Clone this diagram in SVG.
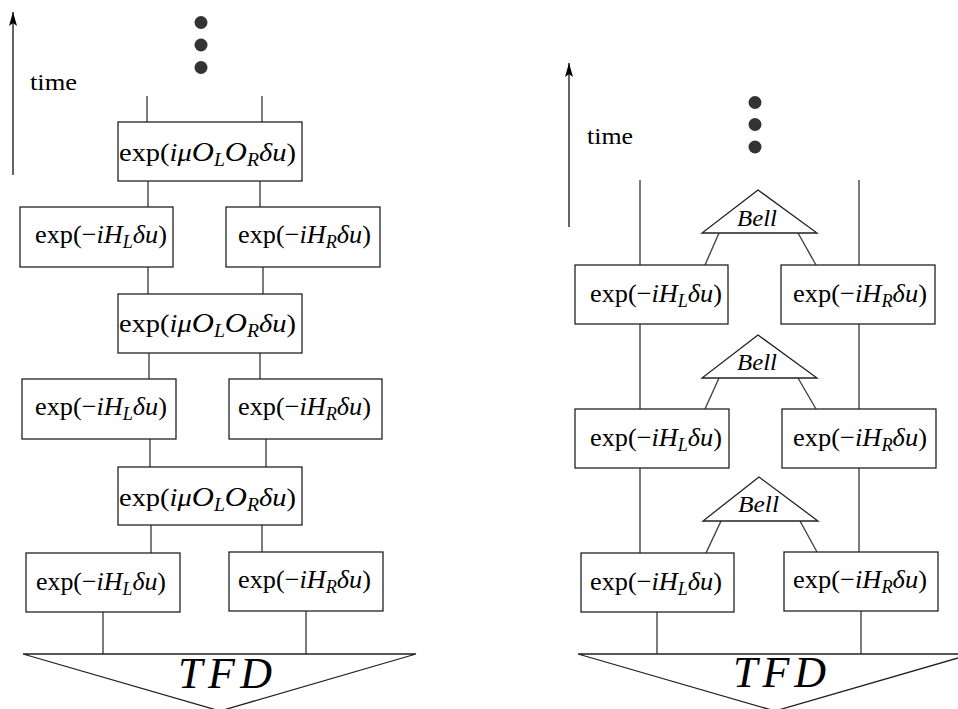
<svg xmlns="http://www.w3.org/2000/svg" width="958" height="709" viewBox="0 0 958 709">
<defs>
<marker id="ah" markerWidth="16" markerHeight="10" refX="14" refY="4" orient="auto" markerUnits="userSpaceOnUse">
<path d="M0,0 L14,4 L0,8 L3,4 Z" fill="#000"/>
</marker>
<style>
.box{fill:#fff;stroke:#222;stroke-width:1.3}
.tri{fill:#fff;stroke:#222;stroke-width:1.3}
.ln{stroke:#444;stroke-width:1.4;fill:none}
.ax{stroke:#111;stroke-width:1.3;fill:none}
.dot{fill:#333}
text{font-family:"Liberation Serif","Times New Roman",serif;fill:#000}
.m{font-size:26px}
.i{font-style:italic}
.s{font-style:italic;font-size:18px}
.o{font-style:italic;font-size:28px}
.t{font-size:24px}
.bell{font-size:24px;font-style:italic}
.tfd{font-size:44px;font-style:italic}
</style>
</defs>
<rect width="958" height="709" fill="#fff"/>

<g id="connectors">
<line class="ax" x1="13" y1="175" x2="13" y2="12" marker-end="url(#ah)"/>
<line class="ax" x1="569" y1="227" x2="569" y2="63" marker-end="url(#ah)"/>
<line class="ln" x1="147" y1="96" x2="147" y2="122"/>
<line class="ln" x1="262" y1="96" x2="262" y2="122"/>
<line class="ln" x1="148" y1="181" x2="148" y2="207"/>
<line class="ln" x1="260" y1="181" x2="260" y2="207"/>
<line class="ln" x1="148" y1="267" x2="148" y2="294"/>
<line class="ln" x1="263" y1="267" x2="263" y2="294"/>
<line class="ln" x1="149" y1="353" x2="149" y2="379"/>
<line class="ln" x1="260" y1="353" x2="260" y2="379"/>
<line class="ln" x1="150" y1="439" x2="150" y2="467"/>
<line class="ln" x1="266" y1="439" x2="266" y2="467"/>
<line class="ln" x1="151" y1="525" x2="151" y2="553"/>
<line class="ln" x1="262" y1="525" x2="262" y2="552"/>
<line class="ln" x1="103" y1="612" x2="103" y2="654"/>
<line class="ln" x1="306" y1="611" x2="306" y2="654"/>
<line class="ln" x1="640" y1="180" x2="640" y2="265"/>
<line class="ln" x1="859" y1="180" x2="859" y2="265"/>
<line class="ln" x1="640" y1="324" x2="640" y2="409"/>
<line class="ln" x1="859" y1="324" x2="859" y2="409"/>
<line class="ln" x1="640" y1="468" x2="640" y2="553"/>
<line class="ln" x1="859" y1="468" x2="859" y2="552"/>
<line class="ln" x1="657" y1="612" x2="657" y2="654"/>
<line class="ln" x1="861" y1="611" x2="861" y2="654"/>
<line class="ln" x1="719" y1="233" x2="705" y2="265"/>
<line class="ln" x1="798" y1="233" x2="816" y2="265"/>
<line class="ln" x1="719" y1="378" x2="705" y2="409"/>
<line class="ln" x1="798" y1="378" x2="816" y2="409"/>
<line class="ln" x1="721" y1="521" x2="706" y2="553"/>
<line class="ln" x1="800" y1="521" x2="817" y2="552"/>
</g>

<g id="labels">
<text class="t" x="30" y="90" textLength="47" lengthAdjust="spacingAndGlyphs">time</text>
<text class="t" x="587" y="144" textLength="46" lengthAdjust="spacingAndGlyphs">time</text>
</g>

<g id="dots-left">
<circle class="dot" cx="201" cy="22.5" r="6.5"/>
<circle class="dot" cx="201" cy="45" r="6.5"/>
<circle class="dot" cx="201" cy="67.5" r="6.5"/>
</g>
<g id="dots-right">
<circle class="dot" cx="755" cy="102.5" r="6.5"/>
<circle class="dot" cx="755" cy="124.5" r="6.5"/>
<circle class="dot" cx="755" cy="147" r="6.5"/>
</g>

<g id="L-int1">
<rect class="box" x="118" y="122" width="184" height="59"/>
<text class="m" x="119" y="161" textLength="177" lengthAdjust="spacingAndGlyphs">exp(<tspan class="i">iμ</tspan><tspan class="o">O</tspan><tspan class="s" dy="5">L</tspan><tspan class="o" dy="-5">O</tspan><tspan class="s" dy="5">R</tspan><tspan class="i" dy="-5">δu</tspan>)</text>
</g>
<g id="L-HL1">
<rect class="box" x="20" y="207" width="153" height="60"/>
<text class="m" x="35" y="243" textLength="132" lengthAdjust="spacingAndGlyphs">exp(−<tspan class="i">iH</tspan><tspan class="s" dy="5">L</tspan><tspan class="i" dy="-5">δu</tspan>)</text>
</g>
<g id="L-HR1">
<rect class="box" x="226" y="207" width="154" height="60"/>
<text class="m" x="238" y="243" textLength="133" lengthAdjust="spacingAndGlyphs">exp(−<tspan class="i">iH</tspan><tspan class="s" dy="5">R</tspan><tspan class="i" dy="-5">δu</tspan>)</text>
</g>
<g id="L-int2">
<rect class="box" x="118" y="294" width="184" height="59"/>
<text class="m" x="119" y="332" textLength="177" lengthAdjust="spacingAndGlyphs">exp(<tspan class="i">iμ</tspan><tspan class="o">O</tspan><tspan class="s" dy="5">L</tspan><tspan class="o" dy="-5">O</tspan><tspan class="s" dy="5">R</tspan><tspan class="i" dy="-5">δu</tspan>)</text>
</g>
<g id="L-HL2">
<rect class="box" x="22" y="379" width="154" height="60"/>
<text class="m" x="35" y="415" textLength="132" lengthAdjust="spacingAndGlyphs">exp(−<tspan class="i">iH</tspan><tspan class="s" dy="5">L</tspan><tspan class="i" dy="-5">δu</tspan>)</text>
</g>
<g id="L-HR2">
<rect class="box" x="229" y="379" width="153" height="60"/>
<text class="m" x="238" y="415" textLength="133" lengthAdjust="spacingAndGlyphs">exp(−<tspan class="i">iH</tspan><tspan class="s" dy="5">R</tspan><tspan class="i" dy="-5">δu</tspan>)</text>
</g>
<g id="L-int3">
<rect class="box" x="118" y="467" width="184" height="58"/>
<text class="m" x="119" y="506" textLength="177" lengthAdjust="spacingAndGlyphs">exp(<tspan class="i">iμ</tspan><tspan class="o">O</tspan><tspan class="s" dy="5">L</tspan><tspan class="o" dy="-5">O</tspan><tspan class="s" dy="5">R</tspan><tspan class="i" dy="-5">δu</tspan>)</text>
</g>
<g id="L-HL3">
<rect class="box" x="26" y="553" width="154" height="59"/>
<text class="m" x="36" y="590" textLength="130" lengthAdjust="spacingAndGlyphs">exp(−<tspan class="i">iH</tspan><tspan class="s" dy="5">L</tspan><tspan class="i" dy="-5">δu</tspan>)</text>
</g>
<g id="L-HR3">
<rect class="box" x="229" y="552" width="154" height="59"/>
<text class="m" x="238" y="588" textLength="133" lengthAdjust="spacingAndGlyphs">exp(−<tspan class="i">iH</tspan><tspan class="s" dy="5">R</tspan><tspan class="i" dy="-5">δu</tspan>)</text>
</g>
<g id="L-TFD">
<polygon class="tri" points="23,654 416,654 220,711"/>
<text class="tfd" x="178" y="688" textLength="94" lengthAdjust="spacing">TFD</text>
</g>

<g id="R-bell1">
<polygon class="tri" points="758,190 702,233 817,233"/>
<text class="bell" x="737" y="226" textLength="40" lengthAdjust="spacingAndGlyphs">Bell</text>
</g>
<g id="R-HL1">
<rect class="box" x="575" y="265" width="153" height="59"/>
<text class="m" x="590" y="302" textLength="132" lengthAdjust="spacingAndGlyphs">exp(−<tspan class="i">iH</tspan><tspan class="s" dy="5">L</tspan><tspan class="i" dy="-5">δu</tspan>)</text>
</g>
<g id="R-HR1">
<rect class="box" x="781" y="265" width="154" height="59"/>
<text class="m" x="793" y="302" textLength="134" lengthAdjust="spacingAndGlyphs">exp(−<tspan class="i">iH</tspan><tspan class="s" dy="5">R</tspan><tspan class="i" dy="-5">δu</tspan>)</text>
</g>
<g id="R-bell2">
<polygon class="tri" points="758,335 702,378 817,378"/>
<text class="bell" x="737" y="370" textLength="40" lengthAdjust="spacingAndGlyphs">Bell</text>
</g>
<g id="R-HL2">
<rect class="box" x="575" y="409" width="154" height="59"/>
<text class="m" x="590" y="446" textLength="132" lengthAdjust="spacingAndGlyphs">exp(−<tspan class="i">iH</tspan><tspan class="s" dy="5">L</tspan><tspan class="i" dy="-5">δu</tspan>)</text>
</g>
<g id="R-HR2">
<rect class="box" x="782" y="409" width="154" height="59"/>
<text class="m" x="793" y="446" textLength="134" lengthAdjust="spacingAndGlyphs">exp(−<tspan class="i">iH</tspan><tspan class="s" dy="5">R</tspan><tspan class="i" dy="-5">δu</tspan>)</text>
</g>
<g id="R-bell3">
<polygon class="tri" points="759,477 703,521 818,521"/>
<text class="bell" x="738" y="512" textLength="41" lengthAdjust="spacingAndGlyphs">Bell</text>
</g>
<g id="R-HL3">
<rect class="box" x="581" y="553" width="153" height="59"/>
<text class="m" x="590" y="590" textLength="132" lengthAdjust="spacingAndGlyphs">exp(−<tspan class="i">iH</tspan><tspan class="s" dy="5">L</tspan><tspan class="i" dy="-5">δu</tspan>)</text>
</g>
<g id="R-HR3">
<rect class="box" x="784" y="552" width="154" height="59"/>
<text class="m" x="793" y="588" textLength="134" lengthAdjust="spacingAndGlyphs">exp(−<tspan class="i">iH</tspan><tspan class="s" dy="5">R</tspan><tspan class="i" dy="-5">δu</tspan>)</text>
</g>
<g id="R-TFD">
<polygon class="tri" points="578,654 972,654 775,711"/>
<text class="tfd" x="733" y="687" textLength="93" lengthAdjust="spacing">TFD</text>
</g>
</svg>
